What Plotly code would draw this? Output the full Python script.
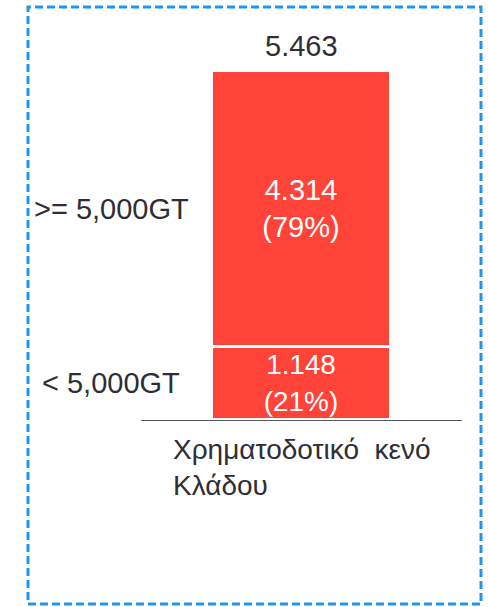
import plotly.graph_objects as go

categories = ["Χρηματοδοτικό κενό<br>Κλάδου"]
segment_names = ["< 5,000GT", ">= 5,000GT"]
segment_values = [1.148, 4.314]
segment_pcts = ["21%", "79%"]
total_label = "5.463"

BAR = "#FF4338"
TXT = "#2E2E33"
FONT = "Liberation Sans, Arial, sans-serif"
FS = 29

L, R, T, B = 141, 26, 20, 187
W, H = 488, 607
pw, ph = W - L - R, H - T - B

fig = go.Figure()
for name, val, pct in zip(segment_names, segment_values, segment_pcts):
    fig.add_trace(go.Bar(
        x=[0], y=[val], name=name,
        width=0.558,
        marker=dict(color=BAR, line=dict(color="white", width=3)),
        text=[f"{val:.3f}<br>({pct})"],
        textposition="inside", insidetextanchor="middle",
        textfont=dict(color="white", size=FS, family=FONT),
        showlegend=False, hoverinfo="skip",
    ))

annotations = []
cum = 0
for name, val in zip(segment_names, segment_values):
    annotations.append(dict(
        x=(111 - L) / pw, y=cum + val / 2, xref="paper", yref="y", text=name,
        showarrow=False, xanchor="center", yanchor="middle",
        font=dict(size=FS, color=TXT, family=FONT)))
    cum += val
annotations.append(dict(
    x=0, y=sum(segment_values), xref="x", yref="y", text=total_label,
    showarrow=False, xanchor="center", yanchor="bottom", yshift=7,
    font=dict(size=FS, color=TXT, family=FONT)))
annotations.append(dict(
    x=0, y=0, xref="x", yref="y", text=categories[0].replace(" ", "  ", 1),
    showarrow=False, xanchor="center", yanchor="top", align="left", yshift=-12,
    font=dict(size=28, color=TXT, family=FONT)))

fig.update_layout(
    width=W, height=H, barmode="stack", bargap=0,
    margin=dict(l=L, r=R, t=T, b=B),
    paper_bgcolor="white", plot_bgcolor="white",
    xaxis=dict(range=[-0.5, 0.5], showticklabels=False, showgrid=False,
               zeroline=False, showline=True, linecolor="#55555A", linewidth=1,
               fixedrange=True),
    yaxis=dict(range=[0, 400 / 63.9], visible=False, fixedrange=True),
    annotations=annotations,
    shapes=[dict(type="rect", xref="paper", yref="paper",
                 x0=(28 - L) / pw, x1=(481 - L) / pw,
                 y0=(H - B - 604) / ph, y1=(H - B - 7) / ph,
                 line=dict(color="#1E96F5", width=3, dash="8px,4px"),
                 fillcolor="rgba(0,0,0,0)")],
    uniformtext=dict(minsize=8),
)

fig.write_html("out.html", config={"displayModeBar": False},
               post_script="document.body.style.margin='0';document.body.style.overflow='hidden';")
